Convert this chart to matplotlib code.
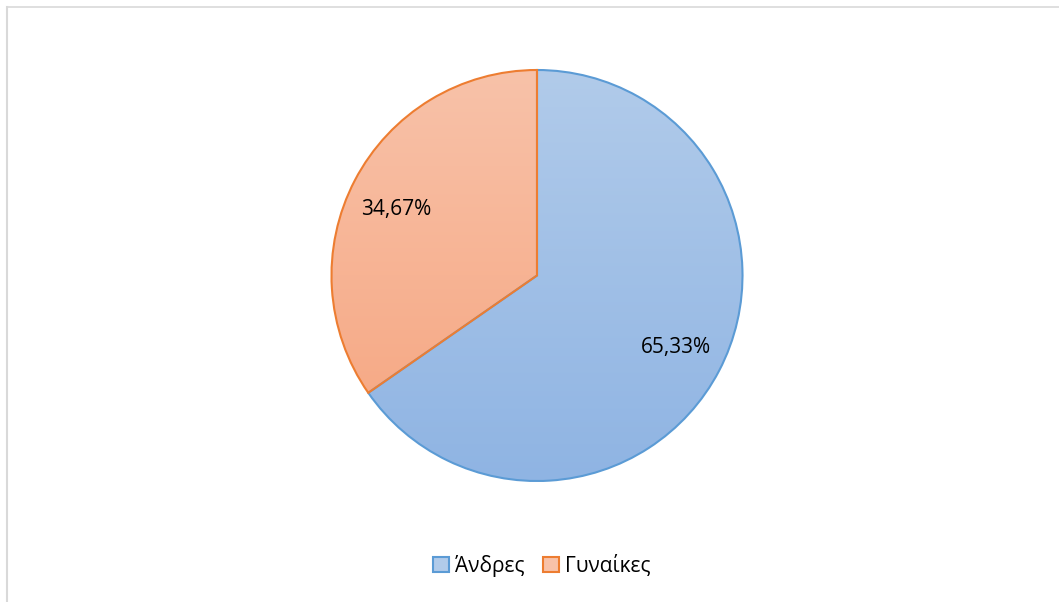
import numpy as np
import matplotlib.pyplot as plt
from matplotlib.colors import LinearSegmentedColormap
from matplotlib.lines import Line2D
from matplotlib.patches import Patch

labels = ['Άνδρες', 'Γυναίκες']
values = [65.33, 34.67]
edge_colors = ['#5b9bd5', '#ed7d31']
grad_top = ['#b1cbea', '#f8c2a9']
grad_bottom = ['#8fb4e3', '#f6a47e']

fig = plt.figure(figsize=(10.59, 6.02), dpi=100)
ax = fig.add_axes([0, 0, 1, 1])

# pie placed in pixel space (y axis inverted: start at top, go clockwise on screen)
cx, cy, r = 537, 275.5, 205.5
wedges, _ = ax.pie(values, startangle=-90, counterclock=True, center=(cx, cy),
                   radius=r, colors=['none', 'none'],
                   wedgeprops=dict(linewidth=1.5), frame=True)
ax.set_xlim(0, 1059)
ax.set_ylim(602, 0)
ax.set_aspect('auto')
ax.axis('off')

# gradient fill clipped to each wedge
grad = np.linspace(0, 1, 256).reshape(-1, 1)
for w, ec, c0, c1 in zip(wedges, edge_colors, grad_top, grad_bottom):
    w.set_edgecolor(ec)
    cmap = LinearSegmentedColormap.from_list('g', [c0, c1])
    im = ax.imshow(grad, cmap=cmap, extent=(cx - r, cx + r, cy + r, cy - r),
                   aspect='auto', zorder=w.get_zorder() - 0.1)
    im.set_clip_path(w)

ax.set_xlim(0, 1059)
ax.set_ylim(602, 0)

ax.text(396, 210, '34,67%', fontsize=15, ha='center', va='center',
        family='Open Sans', color='black')
ax.text(676, 347, '65,33%', fontsize=15, ha='center', va='center',
        family='Open Sans', color='black')

handles = [Patch(facecolor=c0, edgecolor=ec, linewidth=1.5)
           for c0, ec in zip(grad_top, edge_colors)]
fig.legend(handles, labels, loc='center', bbox_to_anchor=(542 / 1059, 1 - 566 / 602),
           ncol=2, frameon=False, prop={'family': 'Open Sans', 'size': 15},
           handlelength=0.75, handleheight=0.75, handletextpad=0.3, columnspacing=0.9)

fig.add_artist(Line2D([7 / 1059, 1], [1 - 7 / 602, 1 - 7 / 602], color='#d9d9d9', lw=1.2))
fig.add_artist(Line2D([7 / 1059, 7 / 1059], [0, 1 - 7 / 602], color='#d9d9d9', lw=1.5))

fig.savefig('out.png', dpi=100)
